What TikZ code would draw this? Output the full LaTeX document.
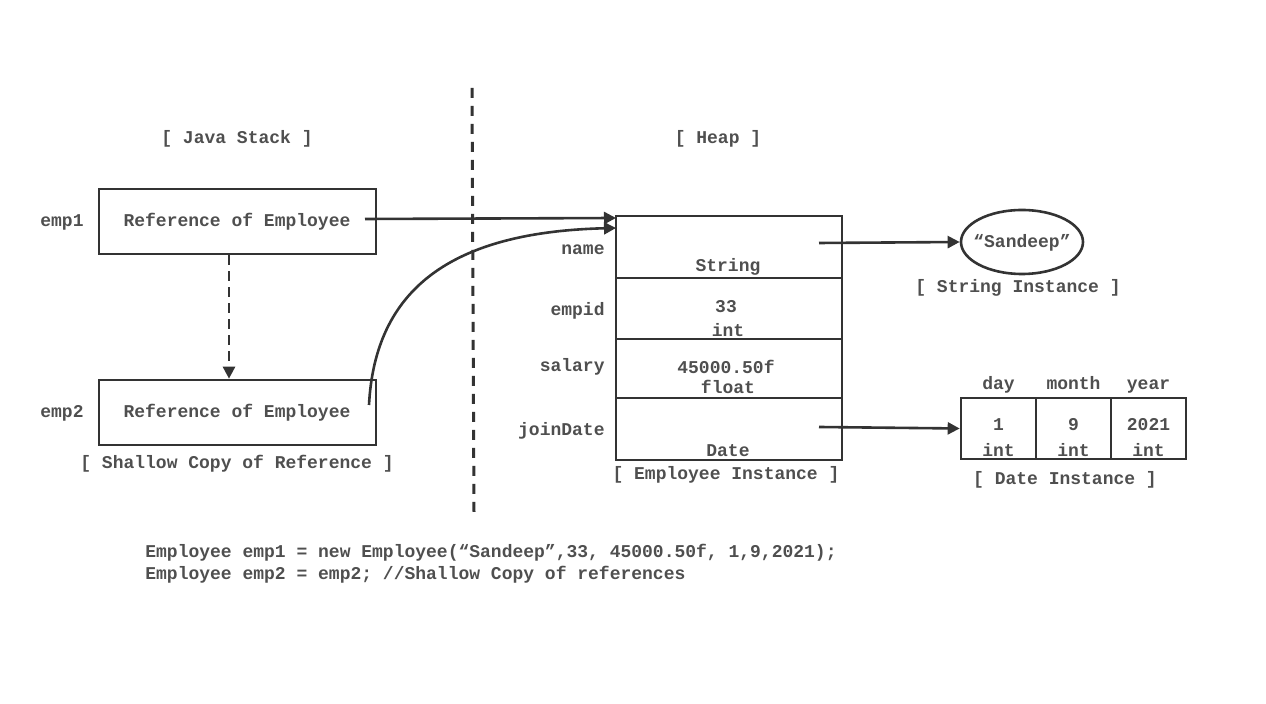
\documentclass[tikz,border=0pt]{standalone}
\usepackage{fontspec}
\setmainfont{Liberation Mono}
\usetikzlibrary{arrows.meta,positioning,shapes.geometric}
\definecolor{ink}{HTML}{333333}
\definecolor{txt}{HTML}{4F4F4F}
\tikzstyle{lbl}=[font=\fontsize{9}{11}\selectfont\bfseries,text=txt,inner sep=0pt]
\tikzstyle{refbox}=[draw=ink,line width=1.3pt,rectangle,minimum width=138.5pt,minimum height=32.5pt,inner sep=0pt]
\tikzstyle{field}=[draw=ink,line width=1.3pt,rectangle,minimum width=113pt,inner sep=0pt]
\tikzstyle{cell}=[draw=ink,line width=1.3pt,rectangle,minimum width=37.5pt,minimum height=30.5pt,inner sep=0pt]
\tikzstyle{ptr}=[draw=ink,line width=1.3pt,-{Triangle[length=6pt,width=6pt]}]

\begin{document}
\begin{tikzpicture}[x=0.5pt,y=-0.5pt]
\useasboundingbox (0,0) rectangle (1266,704);

% stack side
\node [lbl] (stacktitle) at (237,139) {[ Java Stack ]};
\node [refbox] (emp1) at (237.5,221.5) {};
\node [lbl] at (237,222) {Reference of Employee};
\node [lbl] (emp1name) at (62,222) {emp1};
\node [refbox] (emp2) at (237.5,412.5) {};
\node [lbl] at (237,413) {Reference of Employee};
\node [lbl] (emp2name) at (62,413) {emp2};
\node [lbl] (copynote) at (237,464) {[ Shallow Copy of Reference ]};

% divider
\draw [ink,line width=1.5pt,dash pattern=on 5pt off 4pt] (472,88) -- (474,512);

% heap side
\node [lbl] (heaptitle) at (718,139) {[ Heap ]};
\node [field,minimum height=31pt] (fname) at (729,247) {};
\node [field,minimum height=30.5pt] (fempid) at (729,308.5) {};
\node [field,minimum height=29.5pt] (fsalary) at (729,368.5) {};
\node [field,minimum height=31pt] (fdate) at (729,429) {};
\node [lbl,anchor=east] at (605,250) {name};
\node [lbl,anchor=east] at (605,311) {empid};
\node [lbl,anchor=east] at (605,367) {salary};
\node [lbl,anchor=east] at (605,431) {joinDate};
\node [lbl] at (728,267) {String};
\node [lbl] at (726,307) {33};
\node [lbl] at (728,330) {int};
\node [lbl] at (726,367) {45000.50f};
\node [lbl] at (728,387) {float};
\node [lbl] at (728,451) {Date};
\node [lbl] (empnote) at (726,475) {[ Employee Instance ]};

% string instance
\node [draw=ink,line width=1.3pt,ellipse,minimum width=61pt,minimum height=32pt,inner sep=0pt] (strval) at (1022,242) {};
\node [lbl] at (1022,243) {“Sandeep”};
\node [lbl] (strnote) at (1018,288) {[ String Instance ]};

% date instance
\node [cell] (dday) at (998.5,428.5) {};
\node [cell,right=-1.3pt of dday] (dmonth) {};
\node [cell,right=-1.3pt of dmonth] (dyear) {};
\foreach \c/\n/\v in {dday/day/1,dmonth/month/9,dyear/year/2021}{
  \node [lbl,anchor=base] at ([yshift=19.5pt]\c.center) {\n};
  \node [lbl] at ([yshift=1.75pt]\c.center) {\v};
  \node [lbl] at ([yshift=-11pt]\c.center) {int};
}
\node [lbl] (datenote) at (1065,480) {[ Date Instance ]};

% references
\coordinate (emp1out) at (365,219);
\coordinate (emp2out) at (369,405);
\coordinate (namein) at (616,218);
\coordinate (namein2) at (616,228);
\coordinate (nameout) at (819,243);
\coordinate (dateout) at (819,427);
\draw [ptr] (emp1out) -- (namein);
\draw [ptr] (emp2out) .. controls (375,290) and (450,232) .. (namein2);
\draw [ptr,dash pattern=on 5pt off 3pt] ([xshift=-4.25pt]emp1.south) -- ([xshift=-4.25pt]emp2.north);
\draw [ptr] (nameout) -- (strval.west);
\draw [ptr] (dateout) -- (dday.west);

% code
\node [lbl,anchor=west,align=left] (code) at (145,564) {Employee emp1 = new Employee(“Sandeep”,33, 45000.50f, 1,9,2021);\\Employee emp2 = emp2; //Shallow Copy of references};
\end{tikzpicture}
\end{document}
